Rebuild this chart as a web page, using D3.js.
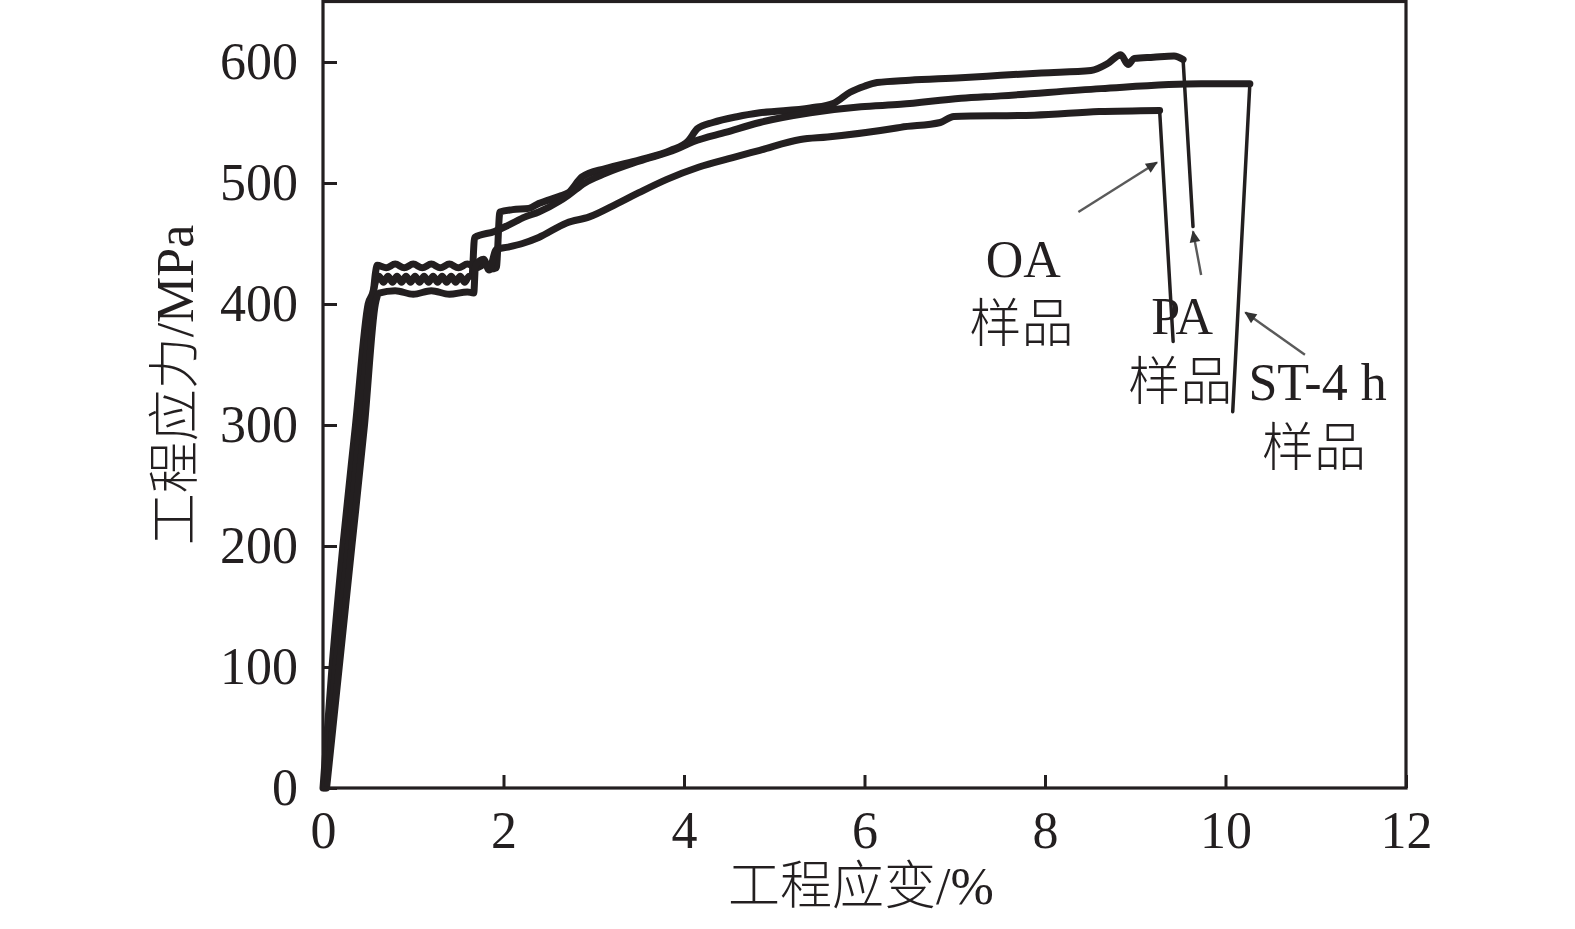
<!DOCTYPE html>
<html>
<head>
<meta charset="utf-8">
<script src="https://cdn.jsdelivr.net/npm/d3@7"></script>
<style>
  html, body { margin: 0; padding: 0; background: #fff; }
  svg { display: block; }
  text { font-family: "Liberation Serif", "Noto Sans CJK SC", serif; fill: #231f20; }
</style>
</head>
<body>
<svg id="chart" width="1575" height="929"></svg>
<script>
// strain (%) / stress (MPa)
const paStrain = [0, 0.10, 0.22, 0.36, 0.50, 0.56, 0.58, 0.60, 0.70, 0.80, 0.90, 1.00, 1.10, 1.20, 1.30, 1.40, 1.50, 1.60, 1.70, 1.80, 1.86, 1.92, 1.96, 2.10, 2.28, 2.39, 2.62, 2.72, 2.87, 3.13, 3.50, 3.85, 4.05, 4.15, 4.32, 4.60, 4.84, 5.40, 5.66, 5.84, 6.00, 6.14, 6.50, 7.07, 7.51, 7.96, 8.51, 8.70, 8.84, 8.92, 8.99, 9.20, 9.43, 9.53];
const paStress = [0, 100, 200, 300, 400, 412, 425, 432, 430, 433, 430, 433, 430, 433, 430, 433, 430, 433, 430, 433, 429, 430, 476, 478, 479, 483, 489, 492, 505, 512, 519, 527, 535, 545, 550, 555, 558, 562, 566, 575, 580, 583, 585, 587, 589, 591, 593, 599, 606, 598, 603, 604, 605, 602];

const stStrain = [0.02, 0.14, 0.28, 0.41, 0.54, 0.58, 0.62, 0.67, 0.72, 0.77, 0.82, 0.87, 0.92, 0.97, 1.02, 1.07, 1.12, 1.17, 1.22, 1.27, 1.32, 1.37, 1.42, 1.47, 1.52, 1.57, 1.62, 1.65, 1.68, 1.90, 2.05, 2.24, 2.39, 2.62, 2.72, 2.90, 3.13, 3.50, 3.92, 4.10, 4.47, 4.84, 5.40, 5.96, 6.40, 7.07, 7.51, 8.62, 9.73, 10.27];
const stStress = [0, 100, 200, 300, 400, 418, 423, 418, 423, 418, 423, 418, 423, 418, 423, 418, 423, 418, 423, 418, 423, 418, 423, 418, 423, 418, 423, 423, 455, 460, 465, 472, 476, 485, 490, 500, 508, 518, 528, 534, 542, 550, 558, 563, 565, 570, 572, 578, 582, 582];

const oaStrain = [0.04, 0.18, 0.32, 0.46, 0.58, 0.62, 0.80, 1.00, 1.20, 1.40, 1.60, 1.67, 1.69, 1.78, 1.84, 1.92, 2.05, 2.21, 2.39, 2.70, 2.95, 3.26, 3.50, 3.81, 4.16, 4.54, 4.84, 5.29, 5.59, 6.32, 6.40, 6.84, 6.99, 7.88, 8.60, 9.27];
const oaStress = [0, 100, 200, 300, 400, 409, 411, 408, 411, 408, 410, 409, 432, 437, 428, 445, 447, 450, 455, 467, 472, 483, 492, 503, 513, 521, 527, 536, 538, 545, 546, 550, 555, 556, 559, 560];

// fracture drops
const paDropStrain = [9.53, 9.64];
const paDropStress = [602, 464];
const stDropStrain = [10.27, 10.08];
const stDropStress = [582, 311];
const oaDropStrain = [9.27, 9.42];
const oaDropStress = [560, 369];

const xTicks = [0, 2, 4, 6, 8, 10, 12];
const yTicks = [0, 100, 200, 300, 400, 500, 600];
const xTitle = "工程应变/%";
const yTitle = "工程应力/MPa";

// annotation labels and arrows (data units)
const labelLines = [
  { x: 7.76, y: 422, text: "OA" },
  { x: 7.74, y: 369, text: "样品" },
  { x: 9.52, y: 375, text: "PA" },
  { x: 9.50, y: 321, text: "样品" },
  { x: 11.02, y: 321, text: "ST-4 h" },
  { x: 10.98, y: 266, text: "样品" }
];
const arrows = [
  { x1: 8.37, y1: 476, x2: 9.24, y2: 517 },
  { x1: 9.73, y1: 424, x2: 9.64, y2: 460 },
  { x1: 10.88, y1: 358, x2: 10.22, y2: 393 }
];

const ink = "#231f20";
const svg = d3.select("#chart");
const x = d3.scaleLinear().domain([0, 12]).range([323, 1406]);
const y = d3.scaleLinear().domain([0, 650]).range([788, 1.5]);

const zip = (xs, ys) => xs.map((v, i) => [v, ys[i]]);
const smooth = d3.line().x((d) => x(d[0])).y((d) => y(d[1])).curve(d3.curveMonotoneX);
const straight = d3.line().x((d) => x(d[0])).y((d) => y(d[1]));

svg.append("defs").append("marker")
  .attr("id", "head")
  .attr("viewBox", "0 0 10 10")
  .attr("refX", 9).attr("refY", 5)
  .attr("markerWidth", 8).attr("markerHeight", 5)
  .attr("markerUnits", "strokeWidth")
  .attr("orient", "auto")
  .append("path")
  .attr("d", "M0,0.5 L10,5 L0,9.5 Z")
  .attr("fill", "#333");

// curves
const curves = svg.append("g").attr("fill", "none").attr("stroke", ink)
  .attr("stroke-linejoin", "round").attr("stroke-linecap", "round");
[[paStrain, paStress], [stStrain, stStress], [oaStrain, oaStress]].forEach(([xs, ys]) => {
  curves.append("path").attr("d", smooth(zip(xs, ys))).attr("stroke-width", 7);
});
[[paDropStrain, paDropStress], [stDropStrain, stDropStress], [oaDropStrain, oaDropStress]].forEach(([xs, ys]) => {
  curves.append("path").attr("d", straight(zip(xs, ys))).attr("stroke-width", 3.5);
});

// axes
const xAxis = d3.axisBottom(x).tickValues(xTicks).tickSizeInner(-13).tickSizeOuter(0).tickPadding(23).tickFormat(d3.format("d"));
const yAxis = d3.axisLeft(y).tickValues(yTicks).tickSizeInner(-14).tickSizeOuter(0).tickPadding(25).tickFormat(d3.format("d"));

const gx = svg.append("g").attr("transform", `translate(0,${y(0)})`).call(xAxis);
const gy = svg.append("g").attr("transform", `translate(${x(0)},0)`).call(yAxis);
[gx, gy].forEach((g) => {
  g.select(".domain").remove();
  g.selectAll(".tick line").attr("stroke", ink).attr("stroke-width", 3);
  g.selectAll(".tick text").attr("font-size", 52).attr("fill", ink)
    .style("font-family", "'Liberation Serif', serif");
});

svg.append("rect")
  .attr("x", x(0)).attr("y", y(650))
  .attr("width", x(12) - x(0)).attr("height", y(0) - y(650))
  .attr("fill", "none").attr("stroke", ink).attr("stroke-width", 3.2);

svg.append("text")
  .attr("x", 861).attr("y", 904)
  .attr("text-anchor", "middle").attr("font-size", 52).attr("font-weight", 300)
  .text(xTitle);

svg.append("text")
  .attr("transform", "translate(193,385) rotate(-90)")
  .attr("text-anchor", "middle").attr("font-size", 52).attr("font-weight", 300)
  .text(yTitle);

// annotations
svg.append("g").selectAll("line").data(arrows).join("line")
  .attr("x1", (d) => x(d.x1)).attr("y1", (d) => y(d.y1))
  .attr("x2", (d) => x(d.x2)).attr("y2", (d) => y(d.y2))
  .attr("stroke", "#5a5a5a").attr("stroke-width", 2.4)
  .attr("marker-end", "url(#head)");

svg.append("g").selectAll("text").data(labelLines).join("text")
  .attr("x", (d) => x(d.x)).attr("y", (d) => y(d.y))
  .attr("text-anchor", "middle").attr("font-size", 52).attr("font-weight", 300)
  .text((d) => d.text);
</script>
</body>
</html>
